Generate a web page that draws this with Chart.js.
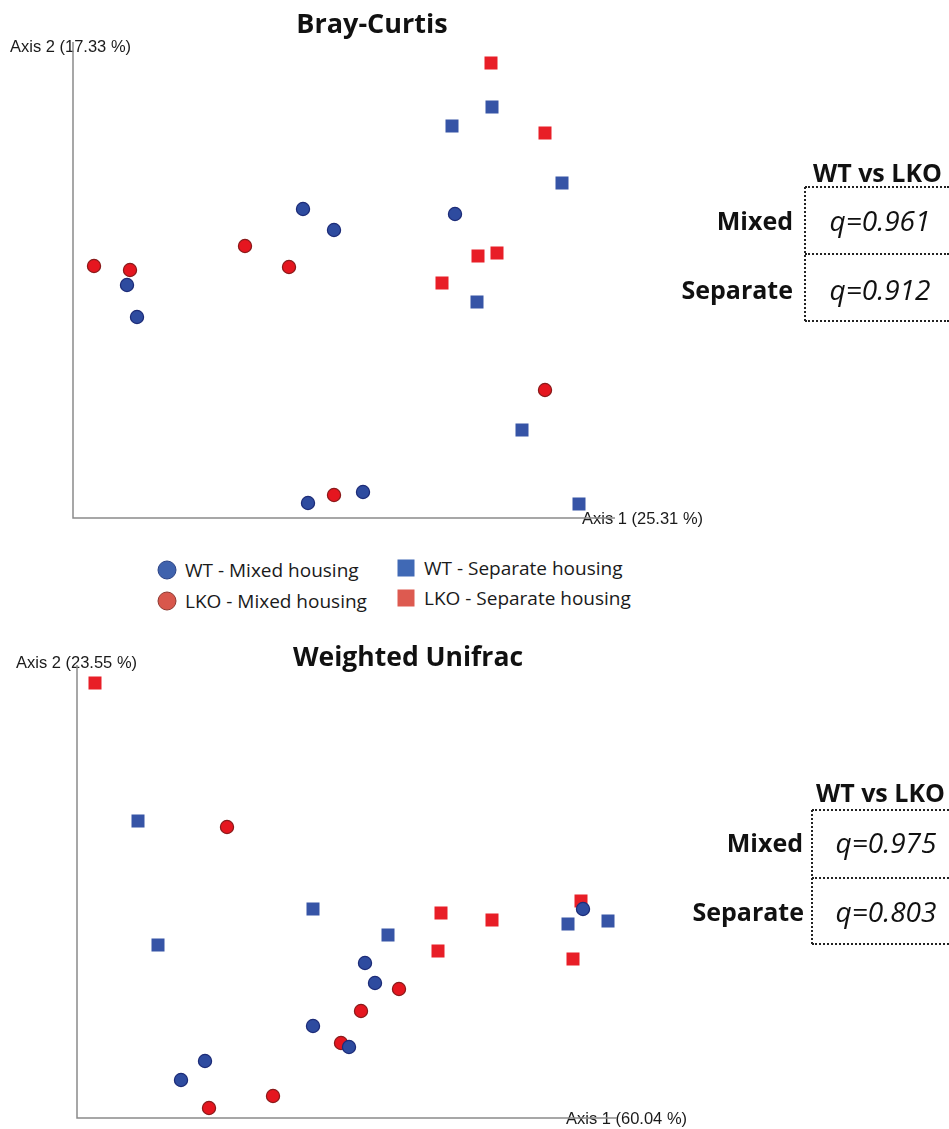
<!DOCTYPE html>
<html>
<head>
<meta charset="utf-8">
<script src="https://cdn.jsdelivr.net/npm/chart.js@4.4.1/dist/chart.umd.min.js"></script>
<style>
  html, body { margin: 0; padding: 0; background: #fff; }
  body { width: 949px; height: 1129px; position: relative; overflow: hidden; font-family: "Open Sans", "Noto Sans", sans-serif; color: #111; }
  .abs { position: absolute; white-space: nowrap; }
  .title { font-weight: 700; font-size: 27px; transform: translate(-50%, -50%); line-height: 1; }
  .ctr { transform: translateY(-50%); line-height: 1; }
  .rgt { transform: translate(-100%, -50%); line-height: 1; }
  .hdr { font-weight: 700; font-size: 25px; }
  .row { font-weight: 700; font-size: 25px; }
  .qv { font-style: italic; font-size: 28px; transform: translate(-50%, -50%); line-height: 1; }
  .hl { position: absolute; height: 0; border-top: 2px dotted #222; }
  .vl { position: absolute; width: 0; border-left: 2px dotted #222; }
  .leg { font-size: 19px; color: #1a1a1a; }
  .dot { position: absolute; width: 19px; height: 19px; border-radius: 50%; box-sizing: border-box; transform: translate(-50%, -50%); }
  .sq { position: absolute; width: 17px; height: 17px; transform: translate(-50%, -50%); }
  .wrap { position: absolute; left: 0; width: 949px; }
</style>
</head>
<body>

<div class="wrap" style="top:0; height:540px;"><canvas id="bray"></canvas></div>
<div class="wrap" style="top:620px; height:509px;"><canvas id="unifrac"></canvas></div>

<div class="abs title" style="left:372px; top:22px;">Bray-Curtis</div>
<div class="abs title" style="left:408px; top:656px; font-size:26.5px;">Weighted Unifrac</div>

<!-- legend -->
<div class="dot" style="left:167px; top:570px; background:#3f62ad; border:1.5px solid #2b4386;"></div>
<div class="abs leg ctr" style="left:185px; top:570px;">WT - Mixed housing</div>
<div class="dot" style="left:167px; top:601px; background:#d8574c; border:1.5px solid #8e3a31;"></div>
<div class="abs leg ctr" style="left:185px; top:601px;">LKO - Mixed housing</div>
<div class="sq" style="left:406px; top:568px; background:#4069b5;"></div>
<div class="abs leg ctr" style="left:424px; top:568px;">WT - Separate housing</div>
<div class="sq" style="left:406px; top:598px; background:#dd5a50;"></div>
<div class="abs leg ctr" style="left:424px; top:598px;">LKO - Separate housing</div>

<!-- comparison tables -->
<div class="abs hdr ctr" style="left:813px; top:172px;">WT vs LKO</div>
<div class="hl" style="left:805px; top:186px; width:144px;"></div>
<div class="hl" style="left:805px; top:253px; width:144px;"></div>
<div class="hl" style="left:805px; top:320px; width:144px;"></div>
<div class="vl" style="left:804px; top:187px; height:134px;"></div>
<div class="abs row rgt" style="left:793px; top:220px;">Mixed</div>
<div class="abs row rgt" style="left:793px; top:289px;">Separate</div>
<div class="abs qv" id="q1" style="left:880px; top:220px;"></div>
<div class="abs qv" id="q2" style="left:880px; top:289px;"></div>

<div class="abs hdr ctr" style="left:816px; top:792px;">WT vs LKO</div>
<div class="hl" style="left:812px; top:809px; width:137px;"></div>
<div class="hl" style="left:812px; top:877px; width:137px;"></div>
<div class="hl" style="left:812px; top:943px; width:137px;"></div>
<div class="vl" style="left:811px; top:810px; height:134px;"></div>
<div class="abs row rgt" style="left:803px; top:842px;">Mixed</div>
<div class="abs row rgt" style="left:804px; top:911px;">Separate</div>
<div class="abs qv" id="q3" style="left:886px; top:842px;"></div>
<div class="abs qv" id="q4" style="left:886px; top:911px;"></div>

<script>
// PCoA scores (relative units along each axis, origin at the axis corner)
// Bray-Curtis
const brayWtMixed   = [[230,309],[261,288],[382,304],[54,233],[64,201],[235,15],[290,26]];
const brayLkoMixed  = [[21,252],[57,248],[172,272],[216,251],[261,23],[472,128]];
const brayWtSep     = [[419,411],[379,392],[489,335],[404,216],[449,88],[506,14]];
const brayLkoSep    = [[418,455],[472,385],[405,262],[424,265],[369,235],[554,61]];
const brayAxisLabels = ["Axis 1 (25.31 %)", "Axis 2 (17.33 %)"];
const brayQ = [0.961, 0.912];

// Weighted Unifrac
const unifracWtMixed  = [[506,209],[288,155],[298,135],[236,92],[272,71],[128,57],[104,38]];
const unifracLkoMixed = [[150,291],[322,129],[284,107],[264,75],[196,22],[132,10]];
const unifracWtSep    = [[61,297],[236,209],[81,173],[311,183],[491,194],[531,197]];
const unifracLkoSep   = [[18,435],[364,205],[415,198],[361,167],[496,159],[504,217]];
const unifracAxisLabels = ["Axis 1 (60.04 %)", "Axis 2 (23.55 %)"];
const unifracQ = [0.975, 0.803];

document.getElementById('q1').textContent = 'q=' + brayQ[0].toFixed(3);
document.getElementById('q2').textContent = 'q=' + brayQ[1].toFixed(3);
document.getElementById('q3').textContent = 'q=' + unifracQ[0].toFixed(3);
document.getElementById('q4').textContent = 'q=' + unifracQ[1].toFixed(3);

const toPts = arr => arr.map(([x, y]) => ({ x, y }));

// draws the two bare axis lines and their labels from the scales
const axesPlugin = {
  id: 'pcoaAxes',
  beforeDatasetsDraw(chart, args, opts) {
    const { ctx, scales: { x, y } } = chart;
    const x0 = x.getPixelForValue(0), y0 = y.getPixelForValue(0);
    const xEnd = x.getPixelForValue(x.max), yEnd = y.getPixelForValue(y.max);
    ctx.save();
    ctx.font = '16.5px "Liberation Sans", Arial, sans-serif';
    ctx.fillStyle = '#1a1a1a';
    ctx.textBaseline = 'middle';
    ctx.textAlign = 'left';
    ctx.fillText(opts.yLabel, opts.yLabelX, yEnd + opts.yLabelDy);
    ctx.fillText(opts.xLabel, xEnd - opts.xLabelBack, y0 + 1);
    ctx.strokeStyle = '#8a8a8a';
    ctx.lineWidth = 1.5;
    ctx.beginPath();
    ctx.moveTo(x0, yEnd);
    ctx.lineTo(x0, y0);
    ctx.lineTo(xEnd, y0);
    ctx.stroke();
    ctx.restore();
  }
};

function ds(label, data, shape, fill, border) {
  return {
    label,
    data: toPts(data),
    pointStyle: shape,
    pointRadius: shape === 'rect' ? 9.2 : 6.6,
    pointHoverRadius: shape === 'rect' ? 9.2 : 6.6,
    backgroundColor: fill,
    borderColor: border,
    borderWidth: shape === 'rect' ? 0 : 1.2,
    clip: false
  };
}

function makeChart(id, sets, xMax, yMax, padding, axisOpts) {
  return new Chart(document.getElementById(id), {
    type: 'scatter',
    data: {
      datasets: [
        ds('WT - Mixed housing', sets[0], 'circle', '#2e4b9f', '#1d2c78'),
        ds('LKO - Mixed housing', sets[1], 'circle', '#e5161f', '#8a1b1b'),
        ds('WT - Separate housing', sets[2], 'rect', '#3654a6', '#3654a6'),
        ds('LKO - Separate housing', sets[3], 'rect', '#e81e27', '#e81e27')
      ]
    },
    options: {
      responsive: true,
      maintainAspectRatio: false,
      animation: false,
      layout: { padding },
      scales: {
        x: { type: 'linear', min: 0, max: xMax, display: false },
        y: { type: 'linear', min: 0, max: yMax, display: false }
      },
      plugins: {
        legend: { display: false },
        tooltip: { enabled: false },
        pcoaAxes: axisOpts
      }
    },
    plugins: [axesPlugin]
  });
}

makeChart('bray', [brayWtMixed, brayLkoMixed, brayWtSep, brayLkoSep], 542, 476,
  { left: 73, top: 42, right: 334, bottom: 22 },
  { xLabel: brayAxisLabels[0], yLabel: brayAxisLabels[1], yLabelX: 10, yLabelDy: 5, xLabelBack: 33 });

makeChart('unifrac', [unifracWtMixed, unifracLkoMixed, unifracWtSep, unifracLkoSep], 540, 453,
  { left: 77, top: 45, right: 332, bottom: 11 },
  { xLabel: unifracAxisLabels[0], yLabel: unifracAxisLabels[1], yLabelX: 16, yLabelDy: -2, xLabelBack: 51 });
</script>
</body>
</html>
